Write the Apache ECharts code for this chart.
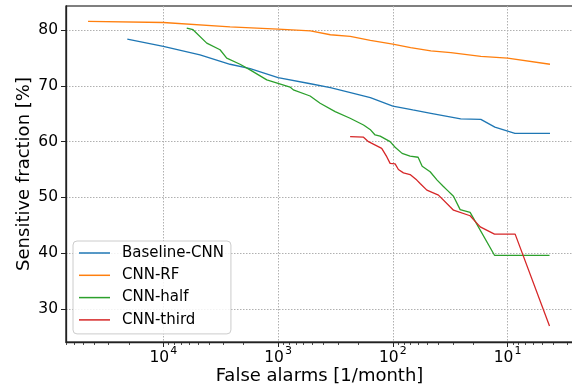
<!DOCTYPE html>
<html>
<head>
<meta charset="utf-8">
<script src="https://cdn.jsdelivr.net/npm/echarts@6/dist/echarts.min.js"></script>
<style>html,body{margin:0;padding:0;background:#fff}#c{width:572px;height:388px}</style>
</head>
<body>
<div id="c"></div>
<script>
// ---- data ----
const seriesNames = ['Baseline-CNN', 'CNN-RF', 'CNN-half', 'CNN-third'];
const colors = ['#1f77b4', '#ff7f0e', '#2ca02c', '#d62728'];

const baselineX = [20600, 10000, 4790, 2620, 1750, 1000, 522, 350, 234, 157, 100, 67, 46.6, 25.6, 17.1, 12.9, 8.63, 4.27];
const baselineY = [78.4, 77.1, 75.6, 73.9, 73.1, 71.5, 70.4, 69.7, 68.8, 67.9, 66.4, 65.7, 65.1, 64.1, 64.0, 62.6, 61.5, 61.5];

const rfX = [45300, 10000, 2620, 1000, 522, 350, 235, 157, 100, 70, 46.6, 31.2, 17.1, 10, 4.27];
const rfY = [81.6, 81.4, 80.6, 80.2, 79.9, 79.2, 78.9, 78.2, 77.5, 76.9, 76.3, 76.0, 75.3, 75.0, 73.9];

const halfX = [6250, 5510, 4183, 3204, 2802, 2145, 1754, 1254, 786, 736, 526, 430, 318, 235.6, 180, 157.8, 142.7, 129, 105.6, 95.5, 83, 70.7, 60.2, 55.5, 47.3, 41.1, 36.4, 33.6, 29.6, 25.9, 21.2, 13.0, 4.31];
const halfY = [80.4, 80.1, 77.7, 76.5, 75.0, 73.9, 72.9, 71.1, 69.8, 69.3, 68.2, 66.9, 65.4, 64.2, 63.0, 62.2, 61.2, 61.0, 60.0, 59.0, 57.9, 57.4, 57.2, 55.6, 54.6, 53.1, 52.0, 51.3, 50.2, 47.8, 47.3, 39.6, 39.6];

const thirdX = [235.6, 180, 163, 125, 113, 105.6, 95.5, 89.4, 80.8, 70.7, 61.8, 57.8, 50.5, 40, 38.7, 31.7, 29.6, 21.2, 19.8, 17.3, 13.0, 8.59, 4.31];
const thirdY = [60.9, 60.8, 60.0, 58.8, 57.3, 56.1, 56.0, 55.0, 54.4, 54.1, 53.1, 52.5, 51.3, 50.4, 50.2, 48.3, 47.7, 46.7, 46.0, 44.7, 43.4, 43.4, 26.9];

const xTickValues = [10, 100, 1000, 10000];
const yTickValues = [30, 40, 50, 60, 70, 80];
const xName = 'False alarms [1/month]';
const yName = 'Sensitive fraction [%]';

// ---- chart ----
const xMin = 2.69, xMax = 70500, yMin = 24.03, yMax = 84.36;
const minorX = [];
for (let e = 0; e <= 4; e++) for (let k = 2; k <= 9; k++) {
  const v = k * Math.pow(10, e);
  if (v > xMin && v < xMax) minorX.push(v);
}
const FONT = 'DejaVu Sans';
const pairs = (xs, ys) => xs.map((x, i) => [x, ys[i]]);
const allData = [pairs(baselineX, baselineY), pairs(rfX, rfY), pairs(halfX, halfY), pairs(thirdX, thirdY)];

const chart = echarts.init(document.getElementById('c'), null, {renderer: 'canvas'});
chart.setOption({
  animation: false,
  backgroundColor: '#fff',
  grid: {left: 66, width: 507, top: 6, height: 336, show: true, borderColor: '#000', borderWidth: 1.2, containLabel: false, outerBoundsMode: 'none'},
  xAxis: [{
    type: 'log', logBase: 10, inverse: true, min: xMin, max: xMax, position: 'bottom',
    name: xName, nameLocation: 'middle', nameGap: 25, nameMoveOverlap: false,
    nameTextStyle: {fontFamily: FONT, fontSize: 18, color: '#000'},
    axisLine: {show: true, lineStyle: {color: '#222', width: 1.3}},
    axisTick: {show: true, length: 5, customValues: xTickValues, lineStyle: {color: '#222', width: 1}},
    axisLabel: {
      customValues: xTickValues, margin: 4,
      formatter: v => '{b|10}{s|' + Math.round(Math.log10(v)) + '}',
      rich: {
        b: {fontFamily: FONT, fontSize: 15.5, color: '#000', lineHeight: 20, verticalAlign: 'bottom'},
        s: {fontFamily: FONT, fontSize: 11, color: '#000', lineHeight: 20, verticalAlign: 'top', padding: [0, 0, 8, 1]}
      }
    },
    splitLine: {show: true, lineStyle: {color: '#b0b0b0', width: 1, type: [1.5, 1.5]}}
  }, {
    type: 'log', logBase: 10, inverse: true, min: xMin, max: xMax, position: 'bottom', gridIndex: 0,
    axisLine: {show: false},
    axisTick: {show: true, length: 3, customValues: minorX, lineStyle: {color: '#222', width: 0.8}},
    axisLabel: {show: false},
    splitLine: {show: false}
  }],
  yAxis: {
    type: 'value', min: yMin, max: yMax,
    name: yName, nameLocation: 'middle', nameGap: 33, nameRotate: 90, nameMoveOverlap: false,
    nameTextStyle: {fontFamily: FONT, fontSize: 18, color: '#000'},
    axisLine: {show: true, lineStyle: {color: '#222', width: 1.3}},
    axisTick: {show: true, length: 5, customValues: yTickValues, lineStyle: {color: '#222', width: 1}},
    axisLabel: {customValues: yTickValues, margin: 8, fontFamily: FONT, fontSize: 15.5, color: '#000'},
    splitLine: {show: true, lineStyle: {color: '#b0b0b0', width: 1, type: [1.5, 1.5]}}
  },
  legend: {
    orient: 'vertical', left: 73, top: 241,
    data: seriesNames,
    icon: 'path://M0,0 L31,0 L31,1.5 L0,1.5 Z',
    itemWidth: 31, itemHeight: 14, itemGap: 4.3,
    padding: [3, 7, 5, 6],
    backgroundColor: 'rgba(255,255,255,0.85)', borderColor: '#cccccc', borderWidth: 1, borderRadius: 4,
    textStyle: {fontFamily: FONT, fontSize: 15, color: '#000', lineHeight: 18, padding: [0, 0, 0, 7]}
  },
  series: seriesNames.map((n, i) => ({
    name: n, type: 'line', xAxisIndex: 0, yAxisIndex: 0,
    data: allData[i], symbol: 'none', showSymbol: false,
    color: colors[i],
    lineStyle: {color: colors[i], width: 1.3},
    z: 3
  }))
});
</script>
</body>
</html>
